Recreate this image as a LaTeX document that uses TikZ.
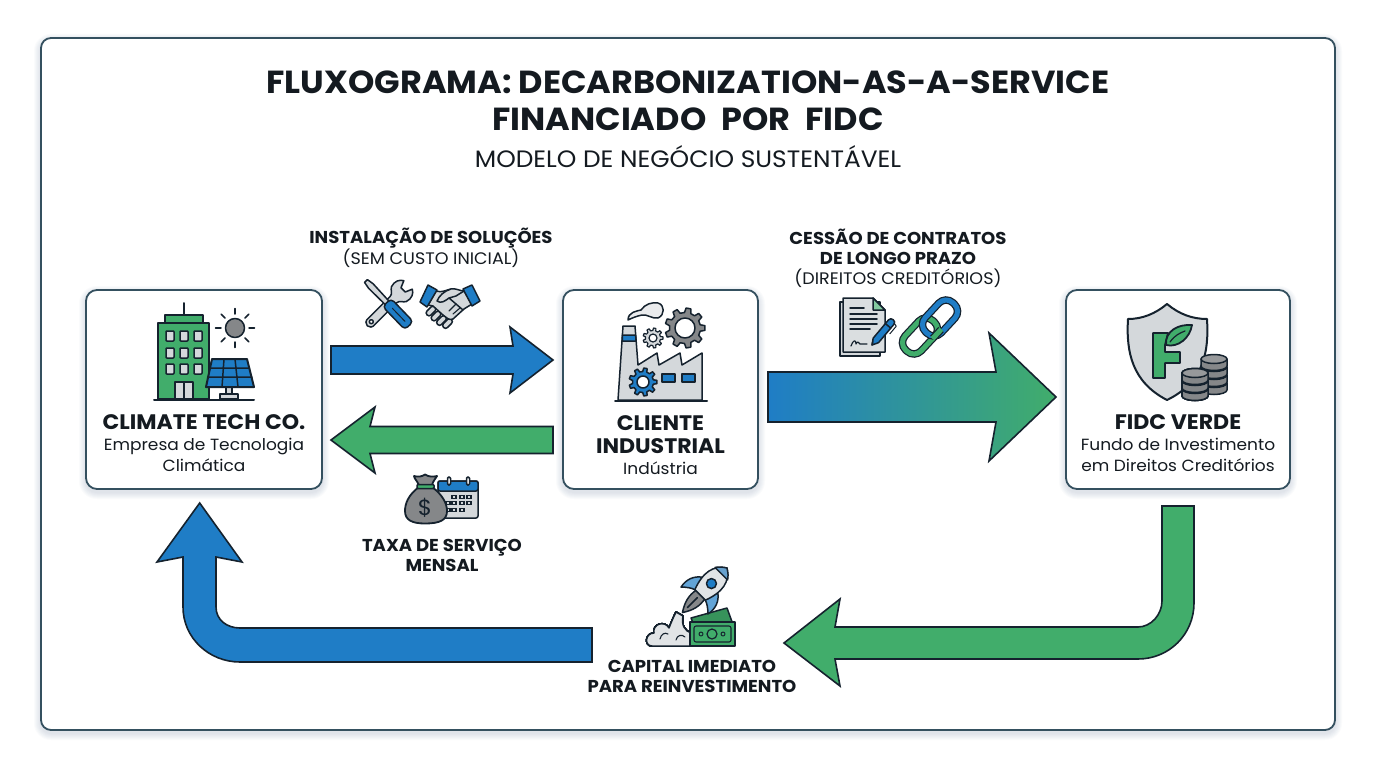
\documentclass[tikz,border=0pt]{standalone}
\usepackage{fontspec}
\setmainfont[FakeStretch=1.05]{Poppins}
\usetikzlibrary{calc}
\definecolor{inkc}{HTML}{15222E}
\definecolor{framec}{HTML}{34505F}
\definecolor{bluec}{HTML}{1F7DC6}
\definecolor{greenc}{HTML}{41AD6B}
\definecolor{lgray}{HTML}{D4D8DB}
\definecolor{mgray}{HTML}{858789}
\definecolor{shadowc}{HTML}{5F7C92}
\definecolor{txtc}{HTML}{141A20}
\tikzset{
  x=1pt,y=-1pt,
  ic/.style={draw=inkc,line width=1.5pt,line join=round,line cap=round},
  barrow/.style={draw=inkc,line width=1.6pt,line join=miter},
  cardbox/.style={draw=framec,line width=1.8pt,rounded corners=11pt,fill=white,inner sep=0pt,outer sep=0pt},
  ttl/.style={font=\fontsize{31.9}{37}\selectfont\bfseries,text=txtc,align=center,inner sep=0pt},
  sub/.style={font=\fontsize{23.7}{26}\selectfont,text=txtc,align=center,inner sep=0pt},
  lab/.style={font=\fontsize{16.7}{20}\selectfont,text=txtc,align=center,inner sep=0pt},
  labb/.style={font=\fontsize{17.2}{20}\selectfont\bfseries,text=txtc,align=center,inner sep=0pt},
  cardt/.style={font=\fontsize{21}{23}\selectfont\bfseries,text=txtc,align=center,inner sep=0pt},
  cardb/.style={font=\fontsize{16.2}{20.5}\selectfont,text=txtc,align=center,inner sep=0pt},
}
\newcommand{\softshadow}[6]{%
  \foreach \i in {1,...,7}{%
    \pgfmathsetmacro{\rr}{#5+\i}%
    \fill[shadowc,opacity=.028,rounded corners=\rr pt] ({#1-\i},{#2-\i+#6}) rectangle ({#3+\i},{#4+\i+#6});
  }}
\newcommand{\cardnode}[5]{%
  \softshadow{#2-#4/2}{#3-#5/2}{#2+#4/2}{#3+#5/2}{11}{3}%
  \node[cardbox,minimum width=#4 pt,minimum height=#5 pt] (#1) at (#2,#3) {};}
% horizontal block arrow from coordinate to coordinate
\newcommand{\hblock}[7][]{%
  \path let \p1=(#2),\p2=(#3),\n1={ifthenelse(\x2>\x1,1,-1)} in
   [draw=inkc,line width=1.6pt,#1]
   (\x1,\y1+#4 pt) -- ({\x2-\n1*#7 pt},\y1+#4 pt) -- ({\x2-\n1*#6 pt},\y1+#5 pt) -- (\x2,\y1)
   -- ({\x2-\n1*#6 pt},\y1-#5 pt) -- ({\x2-\n1*#7 pt},\y1-#4 pt) -- (\x1,\y1-#4 pt) -- cycle;}
\newcommand{\gearic}[9]{% x y ro ri teeth fill holer holefill lw
  \begin{scope}[shift={(#1,#2)}]
  \pgfmathsetmacro{\st}{360/#5}
  \pgfmathtruncatemacro{\nn}{#5-1}
  \draw[ic,fill=#6,line width=#9pt] ({-.30*\st}:#4)
    \foreach \k [evaluate=\k as \a using \k*\st] in {0,...,\nn}{
      -- ({\a-.30*\st}:#4) -- ({\a-.17*\st}:#3) -- ({\a+.17*\st}:#3) -- ({\a+.30*\st}:#4)} -- cycle;
  \draw[ic,fill=#8,line width=#9pt] (0,0) circle (#7);
  \end{scope}}
\newcommand{\coin}[3]{% cx ybottom(center of lower ellipse) fill
  \draw[ic,fill=mgray] (#1-13,#2-7) -- (#1-13,#2) arc[start angle=180,end angle=360,x radius=13,y radius=-4.5] -- (#1+13,#2-7) -- cycle;
  \draw[ic,fill=mgray!85!white] (#1,#2-7) ellipse[x radius=13,y radius=4.5];}
\begin{document}
\begin{tikzpicture}
\useasboundingbox (0,0) rectangle (1376,768);
\fill[white] (0,0) rectangle (1376,768);
% outer frame
\softshadow{41}{38}{1335}{730}{10}{3}
\draw[framec,line width=1.8pt,rounded corners=10pt,fill=white] (41,38) rectangle (1335,730);
% title
\node[ttl] (title) at (688,101) {FLUXOGRAMA: DECARBONIZATION-AS-A-SERVICE\\FINANCIADO\hspace{8pt} POR\hspace{8pt} FIDC};
\node[sub] (subtitle) at (688,157) {MODELO DE NEGÓCIO SUSTENTÁVEL};
% cards
\cardnode{climate}{204}{389.5}{236}{199}
\cardnode{client}{660.5}{389.5}{195}{199}
\cardnode{fidc}{1178}{389.5}{224}{199}
% card text
\node[cardt] (climateT) at (204,422) {CLIMATE TECH CO.};
\node[cardb] (climateB) at (204,455) {Empresa de Tecnologia\\Climática};
\node[cardt] (clientT) at (660.5,434.5) {CLIENTE\\INDUSTRIAL};
\node[cardb] (clientB) at (660.5,468) {Indústria};
\node[cardt] (fidcT) at (1178,422) {FIDC VERDE};
\node[cardb] (fidcB) at (1178,455) {Fundo de Investimento\\em Direitos Creditórios};
% labels
\node[lab] (l1) at (431,248) {{\fontsize{17.2}{20}\selectfont\bfseries INSTALAÇÃO DE SOLUÇÕES}\\(SEM CUSTO INICIAL)};
\node[lab] (l2) at (898,258) {{\fontsize{17.2}{20}\selectfont\bfseries CESSÃO DE CONTRATOS}\\{\fontsize{17.2}{20}\selectfont\bfseries DE LONGO PRAZO}\\(DIREITOS CREDITÓRIOS)};
\node[labb] (l3) at (442,555) {TAXA DE SERVIÇO\\MENSAL};
\node[labb] (l4) at (692,676.5) {CAPITAL IMEDIATO\\PARA REINVESTIMENTO};
% straight connectors
\coordinate (a1s) at ($(climate.east)+(9,-29.5)$);
\coordinate (a1t) at ($(client.west)+(-10,-29.5)$);
\coordinate (a2s) at ($(client.west)+(-10,50.5)$);
\coordinate (a2t) at ($(climate.east)+(9,50.5)$);
\coordinate (a3s) at ($(client.east)+(10,7.5)$);
\coordinate (a3t) at ($(fidc.west)+(-10,7.5)$);
\hblock[fill=bluec]{a1s}{a1t}{14}{33}{43}{40}
\hblock[fill=greenc]{a2s}{a2t}{13.5}{33}{44}{39}
\hblock[left color=bluec,right color=greenc]{a3s}{a3t}{25}{64}{67}{60}
% bent connectors
\coordinate (g4s) at ($(fidc.south)+(0,17)$);
\coordinate (g4t) at (784,643);
\draw[barrow,fill=greenc] ($(g4s)+(-16,0)$) -- ($(g4s)+(16,0)$) -- ($(g4s)+(16,97)$)
  .. controls ($(g4s)+(16,128.4)$) and ($(g4t)+(385,16)$) .. ($(g4t)+(354,16)$)
  -- ($(g4t)+(51,16)$) -- ($(g4t)+(56,43)$) -- (g4t) -- ($(g4t)+(56,-44)$) -- ($(g4t)+(51,-16)$) -- ($(g4t)+(354,-16)$)
  .. controls ($(g4t)+(367,-16)$) and ($(g4s)+(-16,108.5)$) .. ($(g4s)+(-16,95)$) -- cycle;
\coordinate (b5s) at (592,645);
\coordinate (b5t) at ($(climate.south)+(-4.3,14)$);
\draw[barrow,fill=bluec] ($(b5s)+(0,-17)$) -- ($(b5s)+(-352,-17)$)
  .. controls ($(b5s)+(-365,-17)$) and ($(b5t)+(16.3,117)$) .. ($(b5t)+(16.3,104)$)
  -- ($(b5t)+(16.3,54)$) -- ($(b5t)+(42.3,59)$) -- (b5t) -- ($(b5t)+(-42.7,59)$) -- ($(b5t)+(-16.7,54)$) -- ($(b5t)+(-16.7,104)$)
  .. controls ($(b5t)+(-16.7,135)$) and ($(b5s)+(-383,17)$) .. ($(b5s)+(-352,17)$)
  -- ($(b5s)+(0,17)$) -- cycle;

% ---- building icon
\draw[ic,line width=2pt] (184,303) -- (184,316);
\draw[ic,line width=2pt,fill=greenc] (165,323) -- (165,315) -- (203,315) -- (203,323);
\draw[ic,line width=2pt,fill=greenc] (158,399) -- (158,323) -- (209,323) -- (209,399) -- cycle;
\foreach \wx in {170,184,198}\foreach \wy in {336,353,369}
  \draw[ic,fill=lgray,rounded corners=.8pt] (\wx-4,\wy-5) rectangle (\wx+4,\wy+5);
\draw[ic,fill=lgray] (175,382) rectangle (193,399);
\draw[ic] (184,382) -- (184,399);
\draw[ic,fill=mgray] (235,328) circle (9.5);
\foreach \ang in {0,45,...,315}
  \draw[ic] ($(235,328)+(\ang:14)$) -- ($(235,328)+(\ang:19.5)$);
\draw[ic,fill=lgray] (220,394) rectangle (238,399);
\draw[ic,fill=lgray] (226,387) rectangle (232,394);
\draw[ic,line width=2pt,fill=bluec] (212,359) -- (247,359) -- (254,387) -- (206,387) -- cycle;
\draw[ic] (224,359) -- (222,387) (235,359) -- (238,387) (209.5,368) -- (249.5,368) (207.5,377) -- (252,377);
\draw[ic,line width=2pt] (154,399.5) -- (254,399.5);
% ---- tools
\begin{scope}[shift={(372,321)},rotate=45]
 \draw[ic,fill=lgray] (0,-4.5) -- (30,-4.5) .. controls (34,-4.5) and (35,-9) .. (38,-10.5)
   .. controls (44,-12.5) and (49,-10) .. (51,-6) -- (44,-3) -- (44,3) -- (51,6)
   .. controls (49,10) and (44,12.5) .. (38,10.5) .. controls (35,9) and (34,4.5) .. (30,4.5)
   -- (0,4.5) .. controls (-9,6) and (-9,-6) .. (0,-4.5) -- cycle;
 \draw[ic,fill=white] (-1,0) circle (2);
\end{scope}
\begin{scope}[shift={(366,281)},rotate=-46]
 \draw[ic,fill=lgray] (0,-2) -- (7,-3.2) -- (32,-2.5) -- (32,2.5) -- (7,3.2) -- (0,2) -- cycle;
 \draw[ic,fill=bluec,rounded corners=4pt] (30,-5.8) rectangle (62,5.8);
 \draw[ic,line width=1pt] (38,0) -- (56,0);
\end{scope}
% ---- handshake
\foreach \fx/\fy in {431/311,436/316,441.5/320.5,447.5/323.5}
  \draw[ic,fill=lgray,rounded corners=2.5pt,rotate around={-45:(\fx,\fy)}] (\fx-2.8,\fy-5.5) rectangle (\fx+2.8,\fy+5.5);
\draw[ic,fill=lgray] (436,291) .. controls (442,293) and (446,290) .. (451,289) .. controls (456,288) and (460,291) .. (464,291)
   -- (472,304) -- (464,309) -- (453,319) .. controls (449,321) and (446,317) .. (443,315) -- (433,306) -- (428,305) -- cycle;
\draw[ic,fill=lgray] (451,289) .. controls (444,291) and (439,296) .. (437,301) .. controls (441,304) and (445,301) .. (449,298)
   -- (463,310) (449,298) -- (456,296) -- (464,291);
\draw[ic,line width=1.1pt] (456,304) -- (449,311) (460,308) -- (453,314);
\draw[ic,fill=bluec] (420,302) -- (428,285) -- (437,290) -- (427,307) -- cycle;
\draw[ic,fill=bluec] (463,289) -- (472,285) -- (480,301) -- (472,306) -- cycle;
% ---- money bag & calendar
\draw[ic,fill=lgray,rounded corners=2pt] (438,481) rectangle (478,518);
\draw[ic,fill=bluec,rounded corners=2pt] (438,481) rectangle (478,491);
\foreach \rx in {449,468} \draw[ic,fill=white,rounded corners=1.2pt] (\rx-1.5,477) rectangle (\rx+1.5,485);
\foreach \cx/\cy in {454/497,462/497,469/497,448/503,454/503,462/503,469/503,448/510,454/510,462/510}
  \draw[inkc,line width=1.1pt] (\cx-2,\cy-1.8) rectangle (\cx+2,\cy+1.8);
\draw[ic,line width=1.8pt,fill=mgray] (419,487) .. controls (408,495) and (405,504) .. (405,511)
  .. controls (405,520) and (412,523.5) .. (425,523.5) .. controls (440,523.5) and (447,520) .. (447,511)
  .. controls (447,504) and (443,495) .. (432,487) -- cycle;
\draw[ic,line width=1.8pt,fill=mgray] (419,485) .. controls (417,481) and (414,478) .. (414,476) .. controls (418,477) and (421,477) .. (425,474.5)
  .. controls (429,477) and (433,477) .. (437,476) .. controls (436,478) and (433,481) .. (432,485) -- cycle;
\draw[ic,fill=greenc,rounded corners=1pt] (417,484.5) rectangle (434,488.5);
\node[font=\fontsize{22}{22}\selectfont,text=inkc,inner sep=0pt] (dollar) at (425,507.5) {\$};
% ---- factory
\draw[ic,fill=lgray] (618,400) -- (623,326) -- (635,326) -- (638,365) -- (657,353) -- (659,365) -- (680,353) -- (682,365) -- (702,353) -- (702,400) -- cycle;
\draw[ic,fill=bluec] (622.5,335) -- (635.6,335) -- (636,341) -- (622.2,341) -- cycle;
\draw[ic,fill=lgray!50!white] (628,320) .. controls (628,312) and (637,311) .. (641,310) .. controls (645,304) and (652,302) .. (658,303)
  .. controls (665,305) and (665,315) .. (658,318) .. controls (652,319) and (647,314) .. (642,315) .. controls (637,316) and (632,318) .. (628,320) -- cycle;
\gearic{685}{328}{20}{15.5}{9}{mgray}{10}{white}{1.5}
\gearic{653}{338}{10}{7.5}{9}{lgray}{4}{white}{1.2}
\gearic{643}{382}{14}{10.5}{9}{bluec}{6}{white}{1.5}
\draw[ic,fill=bluec] (662,374) rectangle (675,382);
\draw[ic,fill=bluec] (682,374) rectangle (695,382);
\draw[ic,line width=2pt] (615,400.5) -- (707,400.5);
% ---- document
\draw[ic,fill=lgray] (840,302) rectangle (880,356);
\draw[ic,fill=lgray!85!white] (843,298) -- (873,298) -- (885,310) -- (885,352) -- (843,352) -- cycle;
\draw[ic,fill=greenc!65!white] (873,298) -- (885,310) -- (873,310) -- cycle;
\draw[ic] (850,308) -- (864,308) (850,314) -- (877,314) (850,319) -- (877,319) (850,324) -- (877,324) (850,329) -- (870,329);
\draw[ic,line width=1.2pt] (851,346) .. controls (853,340) and (856,339) .. (856,344) .. controls (857,341) and (859,342) .. (860,344) -- (867,344);
\begin{scope}[shift={(872,345)},rotate=50]
 \draw[ic,fill=bluec] (0,0) -- (6,-3.5) -- (30,-3.5) .. controls (34,-3.5) and (34,3.5) .. (30,3.5) -- (6,3.5) -- cycle;
 \draw[ic] (25,-3.5) -- (25,3.5) (0,0) -- (3,-1.5);
 \draw[ic,line width=1pt] (20,6.5) -- (30,6.5) -- (31,3);
\end{scope}
% ---- chain links
\begin{scope}[shift={(920,336)},rotate=47]
 \draw[inkc,line width=7.5pt,rounded corners=10pt] (-20,-11) rectangle (20,11);
 \draw[greenc,line width=5pt,rounded corners=10pt] (-20,-11) rectangle (20,11);
\end{scope}
\begin{scope}[shift={(940,318)},rotate=47]
 \draw[inkc,line width=7.5pt,rounded corners=10pt] (-20,-11) rectangle (20,11);
 \draw[bluec,line width=5pt,rounded corners=10pt] (-20,-11) rectangle (20,11);
\end{scope}
\begin{scope}[shift={(920,336)},rotate=47]
 \draw[inkc,line width=7.5pt,line cap=butt] (7,11) -- (19,11);
 \draw[greenc,line width=5pt,line cap=butt] (6.5,11) -- (19.5,11);
\end{scope}
% ---- shield
\draw[ic,line width=2pt,fill=lgray] (1167,304) .. controls (1155,314) and (1142,319) .. (1128,319)
  .. controls (1126,352) and (1132,382) .. (1167,400) .. controls (1204,382) and (1209,352) .. (1207,319)
  .. controls (1192,319) and (1179,314) .. (1167,304) -- cycle;
\draw[ic,line width=1.8pt,fill=greenc] (1153,333) -- (1168,333) -- (1165,345) -- (1165,352) -- (1180,352) -- (1180,363) -- (1165,363) -- (1165,378) -- (1153,378) -- cycle;
\draw[ic,line width=1.8pt,fill=greenc] (1166,345) .. controls (1165,331) and (1178,324) .. (1192,325) .. controls (1190,338) and (1178,348) .. (1166,345) -- cycle;
\draw[ic,line width=1.2pt] (1170,342) .. controls (1175,335) and (1180,333) .. (1185,331);
\foreach \yy in {390,382,374,366} \coin{1214}{\yy}{mgray}
\foreach \yy in {396,388,380} \coin{1195}{\yy}{mgray}
% ---- rocket, cloud and bills
\draw[ic,fill=lgray!70!white] (652,646) .. controls (644,646) and (645,633) .. (654,633) .. controls (652,624) and (665,620) .. (669,628)
  .. controls (671,623) and (673,618) .. (676,612) -- (683,616) .. controls (681,625) and (685,631) .. (691,633) .. controls (699,636) and (699,646) .. (696,646) -- cycle;
\draw[ic,line width=1.1pt] (660,639) .. controls (661,634) and (665,632) .. (668,634) (676,640) .. controls (677,635) and (682,634) .. (685,637);
\draw[ic,fill=greenc!85!black] (691,618) -- (727,608) -- (735,630) -- (700,640) -- cycle;
\draw[ic,fill=greenc] (690,622) rectangle (735,646);
\draw[ic,line width=1.1pt,rounded corners=2pt] (694,626) rectangle (731,642);
\draw[ic,line width=1.2pt] (712,634) circle (5);
\draw[ic,line width=1pt] (701,634) circle (2) (723,634) circle (2);
\begin{scope}[shift={(727,568)},rotate=-135]
 \draw[ic,fill=mgray] (37,-6) -- (37,6) .. controls (46,8) and (54,6) .. (63,0) .. controls (54,-6) and (46,-8) .. (37,-6) -- cycle;
 \draw[ic] (42,0) -- (56,0);
 \draw[ic,fill=bluec!70!white] (24,-11) .. controls (29,-18) and (37,-21) .. (46,-19) .. controls (42,-15) and (39,-11) .. (38,-7) -- cycle;
 \draw[ic,fill=bluec!70!white] (24,11) .. controls (29,18) and (37,21) .. (46,19) .. controls (42,15) and (39,11) .. (38,7) -- cycle;
 \draw[ic,fill=lgray!70!white] (0,0) .. controls (8,-12) and (20,-14) .. (38,-7.5) -- (38,7.5) .. controls (20,14) and (8,12) .. (0,0) -- cycle;
 \draw[ic,fill=bluec!60!lgray] (0,0) .. controls (2.5,-4) and (5,-7) .. (8,-8.8) -- (8,8.8) .. controls (5,7) and (2.5,4) .. (0,0) -- cycle;
 \draw[ic,fill=bluec] (22,0) circle (5);
\end{scope}
\end{tikzpicture}
\end{document}
